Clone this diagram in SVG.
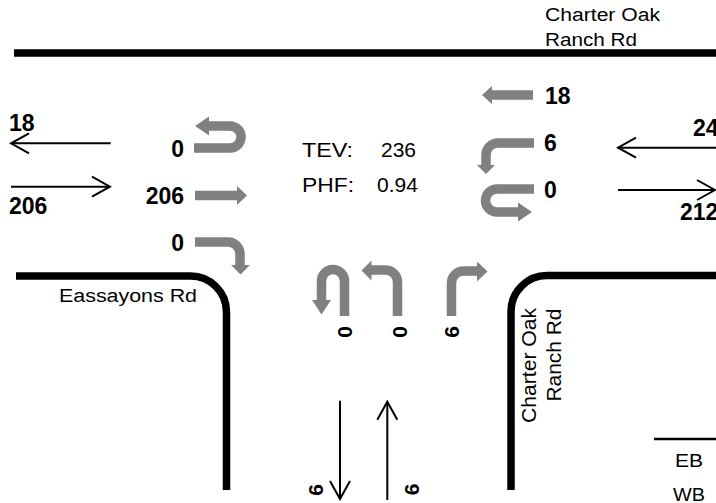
<svg xmlns="http://www.w3.org/2000/svg" width="716" height="503" viewBox="0 0 716 503">
<style>
.road{fill:none;stroke:#000;stroke-width:7.5}
.mv{fill:none;stroke:#808080;stroke-width:9.5}
.hd{fill:#808080}
.flow{fill:none;stroke:#000;stroke-width:2;marker-end:url(#chev)}
.lbl{font-family:"Liberation Sans",Arial,sans-serif;font-size:18px;fill:#000}
.big{font-family:"Liberation Sans",Arial,sans-serif;font-size:21px;fill:#000}
.num{font-family:"Liberation Sans",Arial,sans-serif;font-size:23px;font-weight:bold;fill:#000}
.rnum{font-family:"Liberation Sans",Arial,sans-serif;font-size:21px;font-weight:bold;fill:#000}
</style>
<defs>
<marker id="chev" markerUnits="userSpaceOnUse" viewBox="-21 -12 23 24" markerWidth="23" markerHeight="24" refX="0" refY="0" orient="auto">
<path d="M-18,-10 L0,0 L-18,10" fill="none" stroke="#000" stroke-width="2"/>
</marker>
</defs>
<rect width="716" height="503" fill="#fff"/>

<g id="roads">
<path class="road" d="M14,53 H716" stroke-width="7"/>
<path class="road" d="M16,276 H190 A36,36 0 0 1 226.5,312 V490"/>
<path class="road" d="M716,275.5 H547 A36,36 0 0 0 511,311.5 V490"/>
<path d="M654,439 H716" stroke="#000" stroke-width="2.5"/>
</g>

<g id="road-labels">
<text class="lbl" x="545" y="21" textLength="115" lengthAdjust="spacingAndGlyphs">Charter Oak</text>
<text class="lbl" x="545" y="45.5" textLength="92" lengthAdjust="spacingAndGlyphs">Ranch Rd</text>
<text class="lbl" x="59" y="302" textLength="138" lengthAdjust="spacingAndGlyphs">Eassayons Rd</text>
<text class="big" transform="translate(535.5,423) rotate(-90)" x="0" y="0" textLength="115" lengthAdjust="spacingAndGlyphs">Charter Oak</text>
<text class="big" transform="translate(561,401.5) rotate(-90)" x="0" y="0" textLength="93" lengthAdjust="spacingAndGlyphs">Ranch Rd</text>
<text class="lbl" x="675" y="467.3" textLength="28" lengthAdjust="spacingAndGlyphs">EB</text>
<text class="lbl" x="673" y="500.7" textLength="32" lengthAdjust="spacingAndGlyphs">WB</text>
</g>

<g id="summary">
<text class="big" x="302" y="156.7" textLength="51" lengthAdjust="spacingAndGlyphs">TEV:</text>
<text class="big" x="381" y="156.7">236</text>
<text class="big" x="302" y="191.7" textLength="52" lengthAdjust="spacingAndGlyphs">PHF:</text>
<text class="big" x="377" y="191.7">0.94</text>
</g>

<g id="connectors">
<path class="flow" d="M110.7,143.3 H11"/>
<path class="flow" d="M11,186.7 H110"/>
<path class="flow" d="M716,147.7 H618"/>
<path class="flow" d="M618,190 H715"/>
<path class="flow" d="M340,400.7 V499"/>
<path class="flow" d="M387.3,500 V401.7"/>
</g>

<g id="west-volumes">
<text class="num" x="9" y="130.7">18</text>
<text class="num" x="9" y="214">206</text>
</g>
<g id="east-volumes">
<text class="num" x="693" y="136">24</text>
<text class="num" x="680" y="220">212</text>
</g>
<g id="south-volumes">
<text class="rnum" transform="translate(323,490) rotate(-90)" text-anchor="middle">6</text>
<text class="rnum" transform="translate(419.3,489.5) rotate(-90)" text-anchor="middle">6</text>
</g>

<g id="eb-uturn">
<path class="mv" d="M194,148 H230 A11,11 0 0 0 230,126 H208"/>
<polygon class="hd" points="209,116.5 195,126 209,135.5"/>
<text class="num" x="184" y="157.3" text-anchor="end">0</text>
</g>
<g id="eb-through">
<path class="mv" d="M195,195.5 H237.5"/>
<polygon class="hd" points="237,186 247,195.5 237,205"/>
<text class="num" x="184" y="204" text-anchor="end">206</text>
</g>
<g id="eb-right">
<path class="mv" d="M195,242 H228 A12,12 0 0 1 240,254 V265.5"/>
<polygon class="hd" points="231,265 250,265 240.5,274.5"/>
<text class="num" x="184" y="250.7" text-anchor="end">0</text>
</g>

<g id="wb-through">
<path class="mv" d="M533,95 H491"/>
<polygon class="hd" points="492,86 482,95 492,104"/>
<text class="num" x="545" y="104">18</text>
</g>
<g id="wb-left">
<path class="mv" d="M534,143 H498 A12,12 0 0 0 486,155 V165.5"/>
<polygon class="hd" points="477,165 495,165 486,174"/>
<text class="num" x="544" y="151">6</text>
</g>
<g id="wb-uturn">
<path class="mv" d="M534,189 H497 A11.5,11.5 0 0 0 497,212 H519"/>
<polygon class="hd" points="518,202.5 532,212 518,221.5"/>
<text class="num" x="544" y="198.3">0</text>
</g>

<g id="nb-uturn">
<path class="mv" d="M344.5,316 V281 A11.5,11.5 0 0 0 321.5,281 V301"/>
<polygon class="hd" points="312,300 331,300 321.5,314.5"/>
<text class="rnum" transform="translate(352,332) rotate(-90)" text-anchor="middle">0</text>
</g>
<g id="nb-left">
<path class="mv" d="M397.5,316 V282 A12,12 0 0 0 385.5,270 H371"/>
<polygon class="hd" points="371.5,260.5 361.5,270.5 371.5,280.5"/>
<text class="rnum" transform="translate(406.5,332) rotate(-90)" text-anchor="middle">0</text>
</g>
<g id="nb-right">
<path class="mv" d="M451.5,316 V283 A12,12 0 0 1 463.5,271 H477.5"/>
<polygon class="hd" points="477,261.5 487.5,271.5 477,281.5"/>
<text class="rnum" transform="translate(459,332) rotate(-90)" text-anchor="middle">6</text>
</g>
</svg>
